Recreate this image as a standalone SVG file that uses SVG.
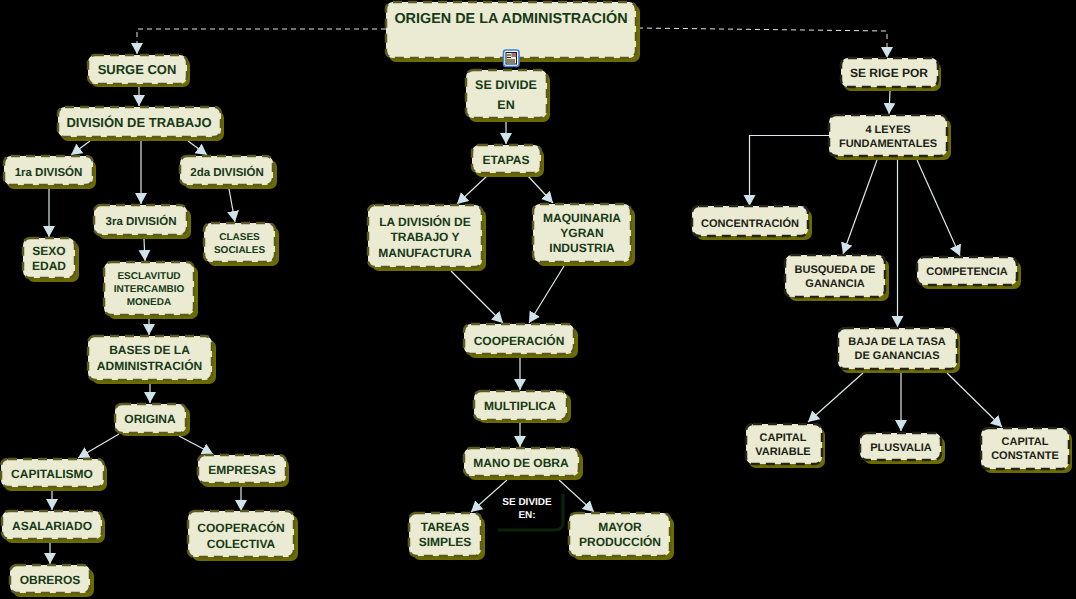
<svg xmlns="http://www.w3.org/2000/svg" width="1076" height="599" viewBox="0 0 1076 599">
<style>
.s{fill:#6b6b00}
.b{fill:#ebebd3;stroke:#5c5a1c;stroke-width:2.500;stroke-dasharray:9 6}
.k .b{stroke:#24241a}
text{font-family:"Liberation Sans",Arial,sans-serif;font-weight:bold;fill:#173a17;text-anchor:middle;font-size:12px;text-rendering:geometricPrecision}
.k text{fill:#1c1f16}
.f10{font-size:10px}.f11{font-size:11px}.f115{font-size:11.500px}.f125{font-size:12.500px}.f13{font-size:13px}.f14{font-size:14.400px;font-weight:bold}
.c line,.c path{stroke:#dfe8ea;stroke-width:1.200;fill:none}
.c .d{stroke-dasharray:5 4;stroke-width:1}
</style>
<defs>
<marker id="a" markerUnits="userSpaceOnUse" markerWidth="14" markerHeight="13" refX="11" refY="6" orient="auto"><path d="M0 0L11 6L0 12z" fill="#cfe3ea"/></marker>
</defs>
<rect width="1076" height="599" fill="#000"/>
<g class="c" id="connectors">
<path class="d" d="M386 29H137V54" marker-end="url(#a)"/>
<path class="d" d="M638 28L887 31V58" marker-end="url(#a)"/>
<line x1="139" y1="87" x2="139" y2="106" marker-end="url(#a)"/>
<line x1="90" y1="141" x2="71" y2="155" marker-end="url(#a)"/>
<line x1="188" y1="141" x2="207" y2="155" marker-end="url(#a)"/>
<line x1="141" y1="141" x2="141" y2="204" marker-end="url(#a)"/>
<line x1="49" y1="189" x2="49" y2="237" marker-end="url(#a)"/>
<line x1="229" y1="189" x2="235" y2="222" marker-end="url(#a)"/>
<line x1="144" y1="239" x2="145" y2="261" marker-end="url(#a)"/>
<line x1="149" y1="318" x2="149" y2="335" marker-end="url(#a)"/>
<line x1="150" y1="383" x2="150" y2="403" marker-end="url(#a)"/>
<line x1="119" y1="434" x2="78" y2="458" marker-end="url(#a)"/>
<line x1="179" y1="436" x2="213" y2="454" marker-end="url(#a)"/>
<line x1="52" y1="491" x2="52" y2="510" marker-end="url(#a)"/>
<line x1="50" y1="543" x2="50" y2="564" marker-end="url(#a)"/>
<line x1="241" y1="487" x2="241" y2="511" marker-end="url(#a)"/>
<line x1="506" y1="122" x2="506" y2="144" marker-end="url(#a)"/>
<line x1="487" y1="176" x2="457" y2="204" marker-end="url(#a)"/>
<line x1="528" y1="176" x2="553" y2="203" marker-end="url(#a)"/>
<line x1="451" y1="271" x2="503" y2="323" marker-end="url(#a)"/>
<line x1="564" y1="266" x2="529" y2="323" marker-end="url(#a)"/>
<line x1="520" y1="358" x2="520" y2="390" marker-end="url(#a)"/>
<line x1="520" y1="423" x2="520" y2="447" marker-end="url(#a)"/>
<line x1="507" y1="480" x2="471" y2="512" marker-end="url(#a)"/>
<line x1="559" y1="480" x2="594" y2="512" marker-end="url(#a)"/>
<line x1="890" y1="91" x2="889" y2="114" marker-end="url(#a)"/>
<path d="M829 135.500H749.500V206" marker-end="url(#a)"/>
<line x1="877" y1="160" x2="843" y2="254" marker-end="url(#a)"/>
<line x1="917" y1="160" x2="960" y2="256" marker-end="url(#a)"/>
<line x1="897.500" y1="160" x2="897.500" y2="327" marker-end="url(#a)"/>
<line x1="863" y1="373" x2="808" y2="422" marker-end="url(#a)"/>
<line x1="901" y1="373" x2="901" y2="431" marker-end="url(#a)"/>
<line x1="947" y1="373" x2="1002" y2="427" marker-end="url(#a)"/>
</g>
<g id="n-root"><rect class="s" x="389" y="5" width="251" height="57" rx="7"/><rect class="b" x="386" y="2" width="250" height="56" rx="7"/><text class="f14" x="511" y="23">ORIGEN DE LA ADMINISTRACIÓN</text></g>
<g id="n-icon"><rect x="503.500" y="50" width="15.500" height="16.500" rx="2.500" fill="#f4f8ff" stroke="#3f7fd8" stroke-width="1.600"/><rect x="506" y="52.500" width="10.500" height="11.500" fill="#ecebc8" stroke="#1a1a1a" stroke-width="1"/><path d="M507 55h4M507 57.500h4M507 60h8M507 62h8" stroke="#1a1a1a" stroke-width="1"/><rect x="511.500" y="53" width="4.500" height="4" fill="#a86a86"/></g>
<g id="n-sedivide"><rect class="s" x="469" y="73" width="81" height="49" rx="7"/><rect class="b" x="466" y="70" width="81" height="48" rx="7"/><text class="f125" x="506" y="89">SE DIVIDE</text><text class="f125" x="506" y="109">EN</text></g>
<g id="n-surge"><rect class="s" x="91" y="58" width="99" height="29" rx="7"/><rect class="b" x="88" y="55" width="99" height="29" rx="7"/><text class="f13" x="137" y="74">SURGE CON</text></g>
<g id="n-divtrab"><rect class="s" x="61" y="111" width="163" height="30" rx="7"/><rect class="b" x="58" y="107" width="163" height="30" rx="7"/><text class="f13" x="139" y="127">DIVISIÓN DE TRABAJO</text></g>
<g id="n-1ra"><rect class="s" x="7" y="160" width="89" height="29" rx="7"/><rect class="b" x="4" y="156" width="89" height="29" rx="7"/><text class="f115" x="48.500" y="176">1ra DIVISÓN</text></g>
<g id="n-2da"><rect class="s" x="184" y="160" width="93" height="29" rx="7"/><rect class="b" x="180" y="156" width="93" height="29" rx="7"/><text class="f115" x="227" y="176">2da DIVISIÓN</text></g>
<g id="n-3ra"><rect class="s" x="98" y="209" width="93" height="30" rx="7"/><rect class="b" x="94" y="205" width="93" height="30" rx="7"/><text class="f115" x="141" y="225">3ra DIVISIÓN</text></g>
<g id="n-sexo"><rect class="s" x="27" y="242" width="52" height="40" rx="7"/><rect class="b" x="23" y="238" width="52" height="40" rx="7"/><text x="49" y="255">SEXO</text><text x="49" y="270">EDAD</text></g>
<g id="n-clases"><rect class="s" x="208" y="227" width="71" height="39" rx="7"/><rect class="b" x="204" y="223" width="71" height="39" rx="7"/><text class="f10" x="239.500" y="240">CLASES</text><text class="f10" x="239.500" y="253">SOCIALES</text></g>
<g id="n-escl"><rect class="s" x="108" y="266" width="90" height="53" rx="7"/><rect class="b" x="104" y="262" width="90" height="53" rx="7"/><text class="f10" x="149" y="279">ESCLAVITUD</text><text class="f10" x="149" y="292">INTERCAMBIO</text><text class="f10" x="149" y="305">MONEDA</text></g>
<g id="n-bases"><rect class="s" x="92" y="340" width="124" height="44" rx="7"/><rect class="b" x="88" y="336" width="124" height="44" rx="7"/><text x="149.500" y="354">BASES DE LA</text><text x="149.500" y="370">ADMINISTRACIÓN</text></g>
<g id="n-origina"><rect class="s" x="119" y="407" width="71" height="29" rx="7"/><rect class="b" x="115" y="404" width="71" height="29" rx="7"/><text x="150" y="423">ORIGINA</text></g>
<g id="n-capit"><rect class="s" x="4" y="463" width="103" height="28" rx="7"/><rect class="b" x="1" y="459" width="103" height="28" rx="7"/><text x="52" y="478">CAPITALISMO</text></g>
<g id="n-empresas"><rect class="s" x="201" y="459" width="88" height="28" rx="7"/><rect class="b" x="198" y="455" width="88" height="28" rx="7"/><text x="242" y="474">EMPRESAS</text></g>
<g id="n-asal"><rect class="s" x="5" y="515" width="100" height="28" rx="7"/><rect class="b" x="2" y="511" width="100" height="28" rx="7"/><text x="52" y="530">ASALARIADO</text></g>
<g id="n-obreros"><rect class="s" x="13" y="569" width="81" height="28" rx="7"/><rect class="b" x="10" y="565" width="80" height="28" rx="7"/><text x="50" y="584">OBREROS</text></g>
<g id="n-coopcol"><rect class="s" x="192" y="515" width="106" height="46" rx="7"/><rect class="b" x="188" y="511" width="106" height="46" rx="7"/><text x="241" y="532">COOPERACÓN</text><text x="241" y="548">COLECTIVA</text></g>
<g id="n-etapas"><rect class="s" x="475" y="149" width="69" height="28" rx="7"/><rect class="b" x="472" y="145" width="69" height="28" rx="7"/><text x="506" y="164">ETAPAS</text></g>
<g id="n-ladiv"><rect class="s" x="372" y="209" width="114" height="62" rx="7"/><rect class="b" x="368" y="205" width="114" height="62" rx="7"/><text x="425" y="226">LA DIVISIÓN DE</text><text x="425" y="241">TRABAJO Y</text><text x="425" y="257">MANUFACTURA</text></g>
<g id="n-maq"><rect class="s" x="537" y="208" width="98" height="58" rx="7"/><rect class="b" x="533" y="204" width="98" height="58" rx="7"/><text x="582" y="222">MAQUINARIA</text><text x="582" y="237">YGRAN</text><text x="582" y="252">INDUSTRIA</text></g>
<g id="n-coop"><rect class="s" x="468" y="328" width="110" height="30" rx="7"/><rect class="b" x="464" y="324" width="110" height="30" rx="7"/><text x="519" y="345">COOPERACIÓN</text></g>
<g id="n-mult"><rect class="s" x="478" y="394" width="93" height="29" rx="7"/><rect class="b" x="474" y="391" width="93" height="29" rx="7"/><text x="520" y="410">MULTIPLICA</text></g>
<g id="n-mano"><rect class="s" x="468" y="452" width="115" height="28" rx="7"/><rect class="b" x="464" y="448" width="115" height="28" rx="7"/><text x="521" y="467">MANO DE OBRA</text></g>
<g id="n-tareas"><rect class="s" x="413" y="517" width="72" height="43" rx="7"/><rect class="b" x="409" y="513" width="72" height="43" rx="7"/><text x="445" y="531">TAREAS</text><text x="445" y="546">SIMPLES</text></g>
<g id="n-mayor"><rect class="s" x="573" y="517" width="101" height="43" rx="7"/><rect class="b" x="569" y="513" width="101" height="43" rx="7"/><text x="620" y="531">MAYOR</text><text x="620" y="546">PRODUCCIÓN</text></g>
<g id="n-sedivide2"><path d="M563 494V522Q563 530 555 530H498" fill="none" stroke="#0a240a" stroke-width="3"/><text class="f10" x="527" y="505" style="fill:#fff">SE DIVIDE</text><text class="f10" x="527" y="518" style="fill:#fff">EN:</text></g>
<g id="n-rige" class="k"><rect class="s" x="844" y="62" width="97" height="29" rx="7"/><rect class="b" x="841" y="58" width="97" height="29" rx="7"/><text x="889" y="77">SE RIGE POR</text></g>
<g id="n-leyes" class="k"><rect class="s" x="833" y="119" width="118" height="41" rx="7"/><rect class="b" x="829" y="115" width="118" height="41" rx="7"/><text class="f11" x="888" y="133">4 LEYES</text><text class="f11" x="888" y="147">FUNDAMENTALES</text></g>
<g id="n-conc" class="k"><rect class="s" x="696" y="210" width="116" height="30" rx="7"/><rect class="b" x="692" y="206" width="116" height="30" rx="7"/><text class="f11" x="750" y="227">CONCENTRACIÓN</text></g>
<g id="n-busq" class="k"><rect class="s" x="789" y="259" width="100" height="42" rx="7"/><rect class="b" x="785" y="255" width="100" height="42" rx="7"/><text class="f11" x="835" y="273">BUSQUEDA DE</text><text class="f11" x="835" y="287">GANANCIA</text></g>
<g id="n-comp" class="k"><rect class="s" x="921" y="261" width="100" height="28" rx="7"/><rect class="b" x="917" y="257" width="100" height="28" rx="7"/><text class="f11" x="967" y="275">COMPETENCIA</text></g>
<g id="n-baja" class="k"><rect class="s" x="841" y="331" width="119" height="42" rx="7"/><rect class="b" x="838" y="328" width="119" height="41" rx="7"/><text class="f11" x="897" y="345">BAJA DE LA TASA</text><text class="f11" x="897" y="359">DE GANANCIAS</text></g>
<g id="n-capvar" class="k"><rect class="s" x="749" y="428" width="76" height="40" rx="7"/><rect class="b" x="746" y="424" width="76" height="40" rx="7"/><text class="f11" x="783" y="441">CAPITAL</text><text class="f11" x="783" y="455">VARIABLE</text></g>
<g id="n-plus" class="k"><rect class="s" x="864" y="437" width="81" height="27" rx="7"/><rect class="b" x="860" y="433" width="81" height="27" rx="7"/><text class="f11" x="901" y="451">PLUSVALIA</text></g>
<g id="n-capcons" class="k"><rect class="s" x="984" y="432" width="88" height="41" rx="7"/><rect class="b" x="981" y="428" width="88" height="41" rx="7"/><text class="f11" x="1025" y="445">CAPITAL</text><text class="f11" x="1025" y="459">CONSTANTE</text></g>
</svg>
